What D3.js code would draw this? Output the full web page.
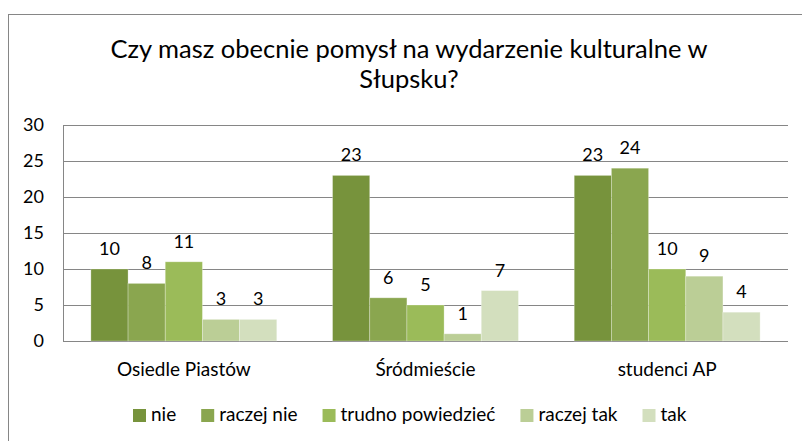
<!DOCTYPE html>
<html>
<head>
<meta charset="utf-8">
<script src="https://cdn.jsdelivr.net/npm/d3@7"></script>
<style>
  body { margin: 0; background: #fff; }
  svg { font-family: Lato, "Open Sans", sans-serif; }
</style>
</head>
<body>
<svg width="802" height="441"></svg>
<script>
// data
var categories = ["Osiedle Piastów", "Śródmieście", "studenci AP"];
var series = ["nie", "raczej nie", "trudno powiedzieć", "raczej tak", "tak"];
var values = [
  [10, 23, 23],   // nie
  [8, 6, 24],     // raczej nie
  [11, 5, 10],    // trudno powiedzieć
  [3, 1, 9],      // raczej tak
  [3, 7, 4]       // tak
];
var yTicks = [0, 5, 10, 15, 20, 25, 30];
var titleLines = ["Czy masz obecnie pomysł na wydarzenie kulturalne w", "Słupsku?"];

var colors = ["#77933c", "#8aa64f", "#9bbb59", "#bbce96", "#d3dfbe"];

var svg = d3.select("svg");

// outer chart border (right/bottom run off the canvas)
svg.append("rect")
  .attr("x", 8.5).attr("y", 14.5)
  .attr("width", 900).attr("height", 500)
  .attr("fill", "none")
  .attr("stroke", "#868686");

// title
svg.append("text")
  .attr("text-anchor", "middle")
  .style("font-size", "25.5px")
  .selectAll("tspan")
  .data(titleLines)
  .enter().append("tspan")
  .attr("x", 409)
  .attr("y", (d, i) => 58 + i * 30)
  .text(d => d);

var plot = { left: 63, right: 788, top: 125, bottom: 341 };

var y = d3.scaleLinear().domain([0, 30]).range([plot.bottom, plot.top]);
var x0 = d3.scaleBand().domain(categories).range([plot.left, plot.right]);
var x1 = d3.scaleBand().domain(series).range([0, x0.bandwidth()]).paddingOuter(0.75);

// gridlines
svg.append("g")
  .selectAll("line")
  .data(yTicks)
  .enter().append("line")
  .attr("x1", plot.left).attr("x2", plot.right)
  .attr("y1", d => Math.round(y(d)) + 0.5)
  .attr("y2", d => Math.round(y(d)) + 0.5)
  .attr("stroke", "#868686");

// y axis line
svg.append("line")
  .attr("x1", plot.left + 0.5).attr("x2", plot.left + 0.5)
  .attr("y1", plot.top).attr("y2", plot.bottom + 1)
  .attr("stroke", "#868686");

// y labels
svg.append("g")
  .selectAll("text")
  .data(yTicks)
  .enter().append("text")
  .attr("x", 44)
  .attr("y", d => y(d))
  .attr("dy", "0.35em")
  .attr("text-anchor", "end")
  .style("font-size", "18px")
  .text(d => d);

// bars
var groups = svg.append("g")
  .selectAll("g")
  .data(series)
  .enter().append("g")
  .attr("fill", (d, i) => colors[i]);

groups.selectAll("rect")
  .data((s, si) => categories.map((c, ci) => ({ c: c, s: s, v: values[si][ci] })))
  .enter().append("rect")
  .attr("x", d => x0(d.c) + x1(d.s))
  .attr("y", d => y(d.v))
  .attr("width", x1.bandwidth())
  .attr("height", d => plot.bottom - y(d.v))
  .attr("stroke", "rgba(255,255,255,0.35)")
  .attr("stroke-width", 0.8);

// data labels
groups.selectAll("text")
  .data((s, si) => categories.map((c, ci) => ({ c: c, s: s, v: values[si][ci] })))
  .enter().append("text")
  .attr("x", d => x0(d.c) + x1(d.s) + x1.bandwidth() / 2)
  .attr("y", d => y(d.v) - 14)
  .attr("text-anchor", "middle")
  .attr("fill", "#000")
  .style("font-size", "18px")
  .text(d => d.v);

// category labels
svg.append("g")
  .selectAll("text")
  .data(categories)
  .enter().append("text")
  .attr("x", d => x0(d) + x0.bandwidth() / 2)
  .attr("y", 376)
  .attr("text-anchor", "middle")
  .style("font-size", "19px")
  .text(d => d);

// legend
var legend = svg.append("g");
var items = legend.selectAll("g")
  .data(series)
  .enter().append("g");
items.append("rect")
  .attr("width", 13).attr("height", 13)
  .attr("y", 409)
  .attr("fill", (d, i) => colors[i]);
items.append("text")
  .attr("x", 18)
  .attr("y", 421)
  .style("font-size", "19px")
  .text(d => d);

var xPos = 0;
items.each(function() {
  var w = d3.select(this).select("text").node().getComputedTextLength();
  d3.select(this).attr("transform", `translate(${xPos},0)`);
  xPos += 18 + w + 25;
});
var legendWidth = xPos - 25;
legend.attr("transform", `translate(${Math.round(410 - legendWidth / 2)},0)`);
</script>
</body>
</html>
